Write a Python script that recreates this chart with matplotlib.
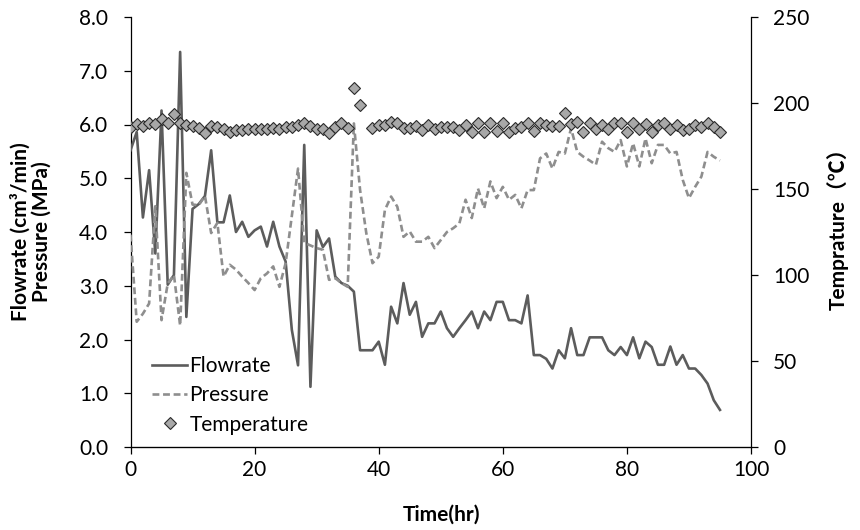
import matplotlib
matplotlib.use('Agg')
import matplotlib.pyplot as plt
import numpy as np
from matplotlib.lines import Line2D
from matplotlib.ticker import FormatStrFormatter

hours = list(range(96))

flowrate = [5.52, 5.86, 4.27, 5.15, 3.60, 6.26, 3.02, 3.20, 7.35, 2.42,
            4.43, 4.52, 4.67, 5.52, 4.18, 4.18, 4.68, 4.00, 4.19, 3.91,
            4.03, 4.10, 3.73, 4.19, 3.73, 3.45, 2.18, 1.52, 5.62, 1.12,
            4.03, 3.72, 3.88, 3.17, 3.05, 3.00, 2.89, 1.80, 1.80, 1.80,
            1.96, 1.53, 2.61, 2.30, 3.05, 2.46, 2.70, 2.05, 2.30, 2.30,
            2.52, 2.21, 2.05, 2.21, 2.36, 2.52, 2.21, 2.52, 2.36, 2.70,
            2.70, 2.36, 2.36, 2.30, 2.82, 1.71, 1.71, 1.64, 1.46, 1.80,
            1.65, 2.21, 1.71, 1.71, 2.04, 2.04, 2.04, 1.80, 1.71, 1.86,
            1.71, 2.04, 1.65, 1.96, 1.86, 1.53, 1.53, 1.87, 1.53, 1.71,
            1.46, 1.46, 1.34, 1.18, 0.87, 0.69]

pressure = [3.95, 2.33, 2.48, 2.67, 4.48, 2.36, 3.04, 3.20, 2.26, 5.10,
            4.51, 4.50, 4.67, 3.98, 4.17, 3.17, 3.39, 3.30, 3.17, 3.05,
            2.92, 3.14, 3.23, 3.36, 2.98, 3.42, 4.30, 5.18, 3.80, 3.75,
            3.70, 3.67, 3.11, 3.14, 3.05, 2.98, 6.02, 4.78, 3.98, 3.42,
            3.54, 4.41, 4.66, 4.47, 3.91, 4.01, 3.82, 3.82, 3.91, 3.70,
            3.85, 4.00, 4.07, 4.16, 4.60, 4.26, 4.81, 4.44, 4.94, 4.63,
            4.84, 4.60, 4.69, 4.44, 4.78, 4.78, 5.37, 5.46, 5.18, 5.49,
            5.46, 5.93, 5.49, 5.40, 5.33, 5.25, 5.68, 5.56, 5.49, 5.71,
            5.22, 5.65, 5.22, 5.74, 5.28, 5.62, 5.62, 5.46, 5.49, 4.97,
            4.63, 4.84, 5.03, 5.49, 5.40, 5.33]

temperature = [186.2, 187.8, 186.8, 188.6, 187.8, 190.5, 188.6, 193.6, 188.6, 187.0,
               186.6, 185.3, 182.7, 186.6, 186.2, 184.7, 183.3, 184.3, 184.3, 184.7,
               184.7, 184.7, 184.7, 185.3, 184.7, 185.9, 186.3, 187.2, 188.2, 186.6,
               184.7, 184.7, 182.7, 186.3, 188.2, 185.3, 208.5, 198.6, None, 185.7,
               187.3, 187.3, 189.2, 188.2, 185.3, 185.7, 186.9, 184.3, 187.2, 184.7,
               186.3, 185.9, 185.9, 184.3, 187.2, 183.3, 188.2, 183.3, 188.6, 183.9,
               188.2, 183.3, 185.3, 185.9, 188.6, 183.9, 188.2, 187.2, 186.6, 186.6,
               194.0, 187.6, 189.2, 183.3, 188.2, 184.7, 187.2, 184.7, 188.2, 188.6,
               183.3, 188.6, 184.7, 187.6, 183.3, 187.2, 188.6, 184.7, 187.2, 184.3,
               184.7, 187.2, 185.9, 188.2, 186.3, 183.3]

x_ticks = [0, 20, 40, 60, 80, 100]
left_ticks = [0, 1, 2, 3, 4, 5, 6, 7, 8]
right_ticks = [0, 50, 100, 150, 200, 250]
series_labels = ['Flowrate', 'Pressure', 'Temperature']

plt.rcParams['font.family'] = ['Lato', 'DejaVu Sans']
FS = 15

fig = plt.figure(figsize=(8.6, 5.3), dpi=100)
ax = fig.add_axes([130.5 / 860, 1 - 447 / 530, 620.5 / 860, 430 / 530])

flow_c = '#5C5C5C'
pres_c = '#8E8E8E'
l1, = ax.plot(hours, flowrate, color=flow_c, lw=1.9, zorder=3)
l2, = ax.plot(hours, pressure, color=pres_c, lw=1.9, dashes=(2.6, 1.4), zorder=4)

ax.set_xlim(0, 100)
ax.set_ylim(0, 8)
ax.set_xticks(x_ticks)
ax.set_yticks(left_ticks)
ax.yaxis.set_major_formatter(FormatStrFormatter('%.1f'))
ax.spines['top'].set_visible(False)
ax.spines['right'].set_visible(False)
for s in ('left', 'bottom'):
    ax.spines[s].set_linewidth(0.9)
ax.tick_params(axis='both', direction='out', length=5, width=0.9,
               labelsize=FS, colors='black')
ax.tick_params(axis='y', pad=11)
ax.tick_params(axis='x', pad=4)

ax2 = ax.twinx()
temp_arr = np.array(temperature, dtype=float)
l3, = ax2.plot(hours, temp_arr, ls='none', marker='D', ms=5.8,
               mfc='#A8A8A8', mec='#2A2A2A', mew=0.8, zorder=5)
ax2.set_ylim(0, 250)
ax2.set_yticks(right_ticks)
ax2.spines['top'].set_visible(False)
ax2.spines['left'].set_visible(False)
ax2.spines['right'].set_linewidth(0.9)
ax2.tick_params(axis='y', direction='out', length=5, width=0.9,
                labelsize=FS, pad=11)

leg_handles = [Line2D([], [], color=flow_c, lw=1.9),
               Line2D([], [], color=pres_c, lw=1.9, dashes=(2.6, 1.4)),
               Line2D([], [], ls='none', marker='D', ms=5.8, mfc='#A8A8A8',
                      mec='#2A2A2A', mew=0.8)]
ax2.legend(leg_handles, series_labels, loc='upper left',
           bbox_to_anchor=(152 / 860, 1 - 356 / 530),
           bbox_transform=fig.transFigure, frameon=False, fontsize=FS,
           handlelength=1.68, handletextpad=0.12, labelspacing=0.45,
           borderpad=0, borderaxespad=0)

fig.text(441 / 860, 1 - 515 / 530, 'Time(hr)', ha='center', va='center',
         fontsize=FS, fontweight='bold')
fig.text(31 / 860, 1 - 232 / 530, 'Flowrate (cm³/min)\nPressure (MPa)',
         rotation=90, ha='center', va='center', multialignment='center',
         fontsize=FS, fontweight='bold', linespacing=1.1)
fig.text(838 / 860, 1 - 224 / 530, 'Temprature（℃）', rotation=90,
         ha='center', va='center', fontsize=FS, fontweight='bold',
         family=['Lato', 'Noto Sans CJK SC', 'DejaVu Sans'])

fig.savefig('out.png', dpi=100)
